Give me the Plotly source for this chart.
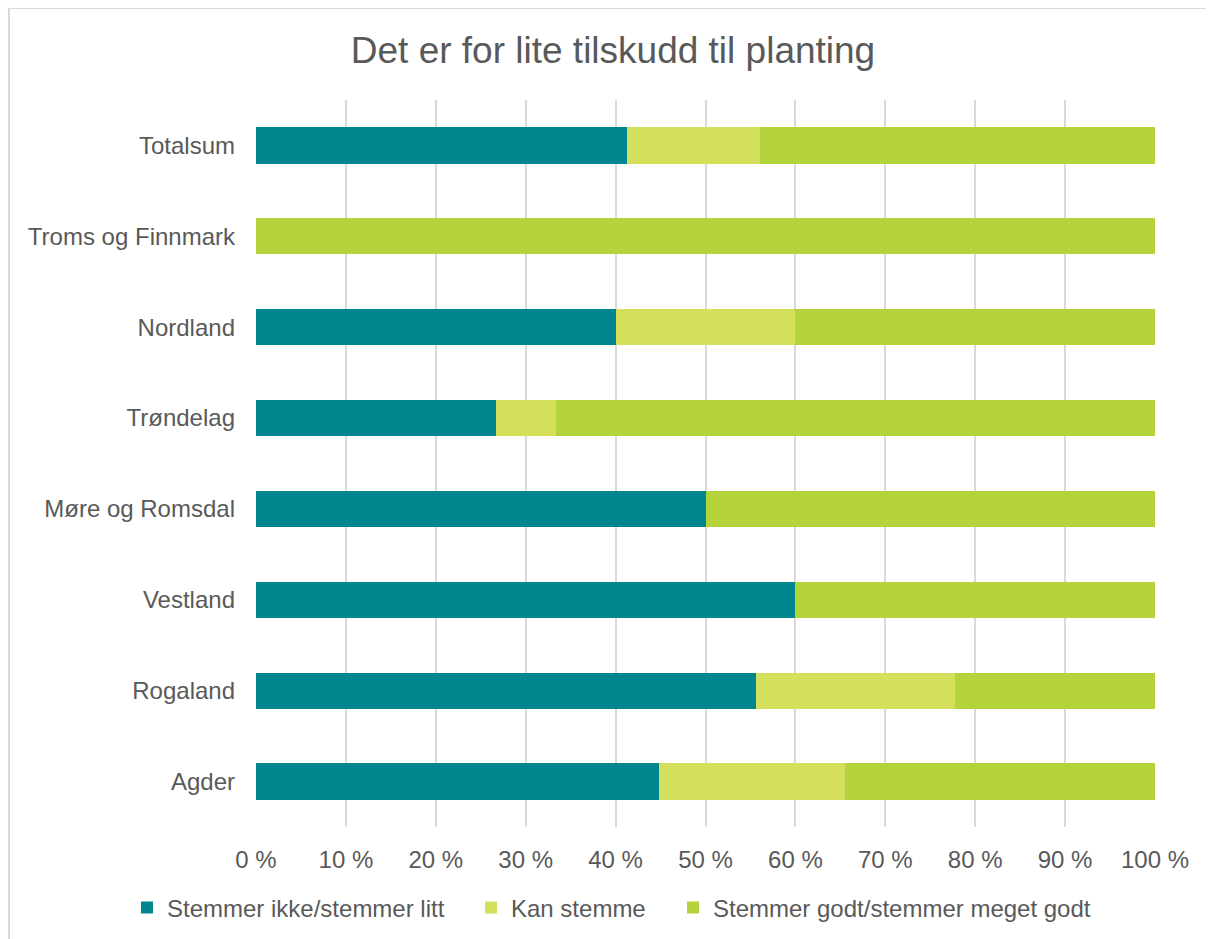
import plotly.graph_objects as go

categories = ["Agder", "Rogaland", "Vestland", "Møre og Romsdal", "Trøndelag",
              "Nordland", "Troms og Finnmark", "Totalsum"]
ikke = [44.8, 55.6, 60.0, 50.0, 26.7, 40.0, 0.0, 41.3]
kan = [20.7, 22.2, 0.0, 0.0, 6.7, 20.0, 0.0, 14.8]
godt = [34.5, 22.2, 40.0, 50.0, 66.6, 40.0, 100.0, 43.9]
series_names = ["Stemmer ikke/stemmer litt", "Kan stemme", "Stemmer godt/stemmer meget godt"]
colors = ["#00868F", "#D4DF5B", "#B5D43B"]
tick_vals = [0, 10, 20, 30, 40, 50, 60, 70, 80, 90, 100]
tick_text = [f"{v} %" for v in tick_vals]

OFF = 8  # page offset
W, H = 1214 - OFF, 939 - OFF
L, R, T, B = 256 - OFF, 59, 100 - OFF, 112
pw, ph = W - L - R, H - T - B

def px_x(x):
    return (x - OFF - L) / pw
def px_y(y):
    return (H - (y - OFF) - B) / ph
def cx(x):
    return (x - OFF) / W
def cy(y):
    return 1 - (y - OFF) / H

legend_ids = ["legend", "legend2", "legend3"]
legend_text_x = [167, 511, 713]

fig = go.Figure()
for name, vals, col, lid in zip(series_names, [ikke, kan, godt], colors, legend_ids):
    fig.add_trace(go.Bar(y=categories, x=vals, name=name, orientation="h",
                         marker=dict(color=col, line=dict(width=0)), width=0.4,
                         legend=lid, showlegend=True))

legend_layout = {}
for lid, tx in zip(legend_ids, legend_text_x):
    legend_layout[lid] = dict(orientation="h", xref="container", yref="container",
                              x=cx(tx - 40), xanchor="left", y=cy(908), yanchor="middle",
                              font=dict(size=24), bgcolor="rgba(0,0,0,0)")

fig.update_layout(
    width=W, height=H,
    showlegend=True,
    barmode="stack",
    plot_bgcolor="white", paper_bgcolor="white",
    margin=dict(l=L, r=R, t=T, b=B),
    font=dict(family="Liberation Sans, Arial, sans-serif", size=24, color="#595959"),
    title=dict(text="Det er for lite tilskudd til planting", x=(613 - OFF) / W, xanchor="center",
               y=1 - (50 - OFF) / H, yanchor="middle",
               font=dict(size=37, color="#595959")),
    xaxis=dict(range=[0, 100], tickvals=tick_vals, ticktext=tick_text,
               showgrid=True, gridcolor="#D9D9D9", gridwidth=2, zeroline=False,
               showline=False, ticks="", ticklen=0, tickfont=dict(size=24),
               ticklabelstandoff=16, fixedrange=True),
    yaxis=dict(range=[-0.5, 7.5], showgrid=False, zeroline=False, ticks="",
               ticklabelstandoff=20, tickfont=dict(size=24)),
    shapes=[dict(type="rect", xref="paper", yref="paper",
                 x0=px_x(9), x1=px_x(1230), y0=px_y(960), y1=px_y(8),
                 line=dict(color="#D9D9D9", width=2), fillcolor="rgba(0,0,0,0)", layer="below")],
    **legend_layout,
)
fig.write_html("out.html")
